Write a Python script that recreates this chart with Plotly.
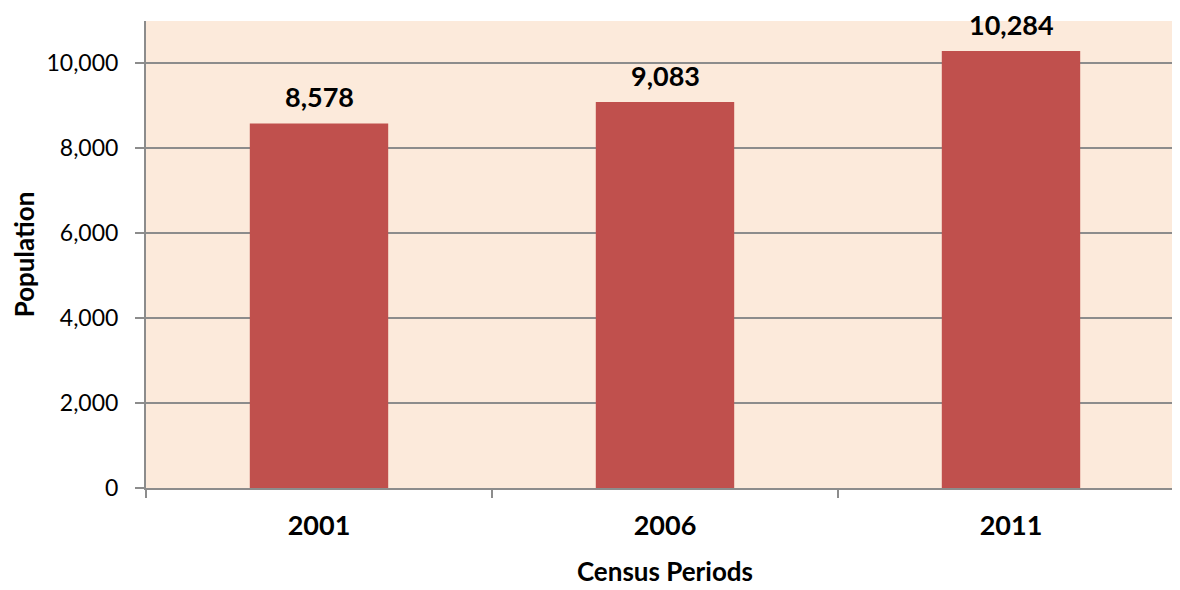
import plotly.graph_objects as go

categories = ["2001", "2006", "2011"]
population = [8578, 9083, 10284]
y_tick_vals = [0, 2000, 4000, 6000, 8000, 10000]
y_tick_text = ["0", "2,000", "4,000", "6,000", "8,000", "10,000"]
labels = [f"{v:,}" for v in population]

FONT = "Lato, Carlito, Calibri, sans-serif"

fig = go.Figure(go.Bar(
    x=categories, y=population,
    marker=dict(color="#C0504D", line=dict(width=0)),
    width=0.4,
))

for i, (v, t) in enumerate(zip(population, labels)):
    fig.add_annotation(
        x=i, y=v, text=t, showarrow=False, yanchor="bottom", yshift=9,
        borderpad=0,
        font=dict(family=FONT, size=27, color="black", weight="bold"),
    )

fig.update_layout(
    width=1176, height=582,
    margin=dict(l=138, r=0, t=13, b=102),
    paper_bgcolor="white", plot_bgcolor="#FCEADB",
    font=dict(family=FONT, size=23, color="black"),
    showlegend=False,
)
fig.update_xaxes(
    type="category", categoryorder="array", categoryarray=categories,
    tickson="boundaries", ticks="outside", ticklen=8,
    tickcolor="#8C8C8C", tickwidth=1.5,
    showline=True, linecolor="#8C8C8C", linewidth=2,
    showgrid=False, tickangle=0, ticklabelstandoff=13,
    tickfont=dict(family=FONT, size=27, color="black", weight="bold"),
    title=dict(text="Census Periods", font=dict(family=FONT, size=26, weight="bold"), standoff=22),
)
fig.update_yaxes(
    range=[0, 10990], tickvals=y_tick_vals, ticktext=y_tick_text,
    ticks="outside", ticklen=9, tickcolor="#8C8C8C", tickwidth=1.5,
    showline=True, linecolor="#8C8C8C", linewidth=2,
    showgrid=True, gridcolor="#8C8C8C", gridwidth=1.5, zeroline=False,
    ticklabelstandoff=12,
    tickfont=dict(family=FONT, size=23, color="black"),
    title=dict(text="Population", font=dict(family=FONT, size=26, weight="bold"), standoff=8),
)

fig.write_html("out.html")
